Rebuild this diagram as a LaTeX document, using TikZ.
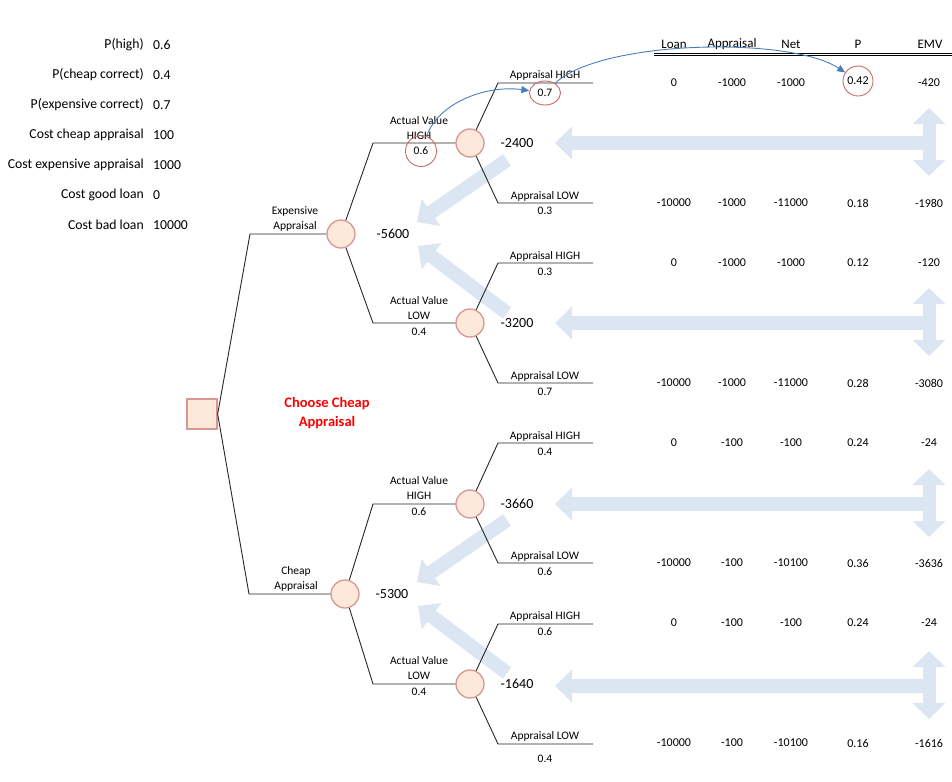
\documentclass[tikz,border=0pt]{standalone}
\usepackage{fontspec}
\setmainfont{Carlito}
\usetikzlibrary{arrows.meta,shapes.geometric}
\definecolor{chfill}{HTML}{FDE9D9}
\definecolor{chdraw}{HTML}{D99694}
\definecolor{annred}{HTML}{C0504D}
\definecolor{blk}{HTML}{DCE6F2}
\definecolor{curveblue}{HTML}{4A7EBB}
\tikzset{
  branch/.style={draw=black!85,line width=0.9pt},
  chance/.style={circle,draw=chdraw,fill=chfill,line width=1.3pt,minimum size=28pt,inner sep=0pt},
  decision/.style={rectangle,draw=chdraw,fill=chfill,line width=1.3pt,minimum size=30pt,inner sep=0pt},
  lbl/.style={font=\fontsize{11.5}{13}\selectfont,inner sep=0pt},
  val/.style={font=\fontsize{14}{16}\selectfont,inner sep=0pt},
  tbl/.style={font=\fontsize{12}{14}\selectfont,inner sep=0pt},
  hdr/.style={font=\fontsize{13}{15}\selectfont,inner sep=0pt},
  par/.style={font=\fontsize{13.7}{15}\selectfont,inner sep=0pt},
  anncirc/.style={circle,draw=annred!85,line width=0.9pt,minimum size=31pt,inner sep=0pt},
  annell/.style={ellipse,draw=annred!85,line width=0.9pt,minimum width=31pt,minimum height=24pt,inner sep=0pt},
  blockarrow/.style={draw=blk,line width=14pt,-{Triangle[width=32pt,length=17pt]}},
  dblarrow/.style={draw=blk,line width=13pt,{Triangle[width=32pt,length=16pt]}-{Triangle[width=32pt,length=16pt]}},
  curvearrow/.style={draw=curveblue,line width=0.9pt,-{Triangle[length=8pt,width=7pt]}},
  choose/.style={font=\fontsize{14.5}{17}\selectfont\bfseries,text=red,inner sep=0pt,align=center}
}
\begin{document}
\begin{tikzpicture}[x=1pt,y=-1pt]
\useasboundingbox (0,0) rectangle (952,781);

% ---------- block arrows (background) ----------
\foreach \yy/\nm in {143/a,323/b,504/c,686/d}{
  \coordinate (tj\nm) at (929,\yy);
  \coordinate (tt\nm) at (555,\yy);
  \coordinate (vt\nm) at (929,\yy-35);
  \coordinate (vb\nm) at (929,\yy+33);
  \draw[blockarrow] (tj\nm) -- (tt\nm);
  \draw[dblarrow] (vt\nm) -- (vb\nm);
}
\coordinate (dEs1) at (507,160); \coordinate (dEt1) at (417,222);
\coordinate (dEs2) at (507,313); \coordinate (dEt2) at (418,246);
\coordinate (dCs1) at (507,520); \coordinate (dCt1) at (417,582);
\coordinate (dCs2) at (507,673); \coordinate (dCt2) at (418,606);
\draw[blockarrow] (dEs1) -- (dEt1);
\draw[blockarrow] (dEs2) -- (dEt2);
\draw[blockarrow] (dCs1) -- (dCt1);
\draw[blockarrow] (dCs2) -- (dCt2);

% ---------- parameters ----------
\foreach \y/\t/\v [count=\i] in {45/P(high)/0.6,75/P(cheap correct)/0.4,105/P(expensive correct)/0.7,135/Cost cheap appraisal/100,165/Cost expensive appraisal/1000,195/Cost good loan/0,225/Cost bad loan/10000}{
  \node[par,anchor=east] (pl\i) at (144,\y) {\t};
  \node[par,anchor=west] (pv\i) at (153,\y) {\v};
}

% ---------- tree nodes ----------
\node[decision] (dec) at (202,414) {};
\node[chance] (exp) at (341,234) {};
\node[chance] (chp) at (345,594) {};
\node[chance] (avhE) at (470,143) {};
\node[chance] (avlE) at (470,323) {};
\node[chance] (avhC) at (470,504) {};
\node[chance] (avlC) at (470,684) {};

\coordinate (cE) at (250,234);
\coordinate (cC) at (249,594);
\coordinate (cEH) at (373,143);
\coordinate (cEL) at (373,323);
\coordinate (cCH) at (373,504);
\coordinate (cCL) at (373,684);
\foreach \yy/\k in {83/1,203/2,263/3,383/4,443/5,563/6,624/7,744/8}{
  \coordinate (la\k) at (498,\yy);
  \coordinate (lb\k) at (593,\yy);
}

\draw[branch] (dec.east) -- (cE) -- (exp);
\draw[branch] (dec.east) -- (cC) -- (chp);
\draw[branch] (exp) -- (cEH) -- (avhE);
\draw[branch] (exp) -- (cEL) -- (avlE);
\draw[branch] (chp) -- (cCH) -- (avhC);
\draw[branch] (chp) -- (cCL) -- (avlC);
\draw[branch] (avhE) -- (la1) -- (lb1);
\draw[branch] (avhE) -- (la2) -- (lb2);
\draw[branch] (avlE) -- (la3) -- (lb3);
\draw[branch] (avlE) -- (la4) -- (lb4);
\draw[branch] (avhC) -- (la5) -- (lb5);
\draw[branch] (avhC) -- (la6) -- (lb6);
\draw[branch] (avlC) -- (la7) -- (lb7);
\draw[branch] (avlC) -- (la8) -- (lb8);

% ---------- branch labels ----------
\node[lbl] (te1) at (295,211) {Expensive};
\node[lbl] (te2) at (295,226) {Appraisal};
\node[lbl] (tc1) at (296,571) {Cheap};
\node[lbl] (tc2) at (296,586) {Appraisal};

\node[lbl] (a1) at (419,121) {Actual Value};
\node[lbl] (a2) at (419,136) {HIGH};
\node[lbl,anncirc] (p06) at (421,151) {0.6};
\node[lbl] (a3) at (419,301) {Actual Value};
\node[lbl] (a4) at (419,316) {LOW};
\node[lbl] (a5) at (419,332) {0.4};
\node[lbl] (a6) at (419,481) {Actual Value};
\node[lbl] (a7) at (419,496) {HIGH};
\node[lbl] (a8) at (419,512) {0.6};
\node[lbl] (a9) at (419,661) {Actual Value};
\node[lbl] (a10) at (419,676) {LOW};
\node[lbl] (a11) at (419,692) {0.4};

\node[lbl] (s1) at (545,75) {Appraisal HIGH};
\node[lbl,annell] (p07) at (545,93) {0.7};
\node[lbl] (s2) at (545,196) {Appraisal LOW};
\node[lbl] (q2) at (545,211) {0.3};
\node[lbl] (s3) at (545,256) {Appraisal HIGH};
\node[lbl] (q3) at (545,272) {0.3};
\node[lbl] (s4) at (545,376) {Appraisal LOW};
\node[lbl] (q4) at (545,392) {0.7};
\node[lbl] (s5) at (545,436) {Appraisal HIGH};
\node[lbl] (q5) at (545,452) {0.4};
\node[lbl] (s6) at (545,556) {Appraisal LOW};
\node[lbl] (q6) at (545,572) {0.6};
\node[lbl] (s7) at (545,616) {Appraisal HIGH};
\node[lbl] (q7) at (545,632) {0.6};
\node[lbl] (s8) at (545,736) {Appraisal LOW};
\node[lbl] (q8) at (545,759) {0.4};

% ---------- node values ----------
\node[val] (v5600) at (393,234) {-5600};
\node[val] (v2400) at (517,143) {-2400};
\node[val] (v3200) at (517,323) {-3200};
\node[val] (v5300) at (392,594) {-5300};
\node[val] (v3660) at (517,504) {-3660};
\node[val] (v1640) at (517,684) {-1640};

\node[choose] (ch1) at (327,404) {Choose Cheap};
\node[choose] (ch2) at (327,423) {Appraisal};

% ---------- table ----------
\node[hdr] (hL) at (674,44) {Loan};
\node[hdr] (hA) at (732,44) {Appraisal};
\node[hdr] (hN) at (791,44) {Net};
\node[hdr] (hP) at (858,44) {P};
\node[hdr] (hE) at (930,44) {EMV};
\coordinate (hl1) at (654,53); \coordinate (hr1) at (952,53);
\coordinate (hl2) at (654,55.6); \coordinate (hr2) at (952,55.6);
\draw[line width=0.8pt] (hl1) -- (hr1);
\draw[line width=0.8pt] (hl2) -- (hr2);

\foreach \yy/\lo/\ap/\ne/\pp/\em [count=\r] in {
  83/0/-1000/-1000/{}/-420,
  203/-10000/-1000/-11000/0.18/-1980,
  263/0/-1000/-1000/0.12/-120,
  383/-10000/-1000/-11000/0.28/-3080,
  443/0/-100/-100/0.24/-24,
  563/-10000/-100/-10100/0.36/-3636,
  623/0/-100/-100/0.24/-24,
  743/-10000/-100/-10100/0.16/-1616}{
  \node[tbl] (tL\r) at (674,\yy) {\lo};
  \node[tbl] (tA\r) at (732,\yy) {\ap};
  \node[tbl] (tN\r) at (791,\yy) {\ne};
  \node[tbl] (tP\r) at (858,\yy) {\pp};
  \node[tbl] (tE\r) at (929,\yy) {\em};
}
\node[tbl,anncirc,minimum size=30pt] (p042) at (858,81) {0.42};

% ---------- curved annotation arrows ----------
\draw[curvearrow] (p06) .. controls (440,100) and (490,85) .. (p07);
\draw[curvearrow] (p07) .. controls (600,40) and (790,36) .. (p042);
\end{tikzpicture}
\end{document}
